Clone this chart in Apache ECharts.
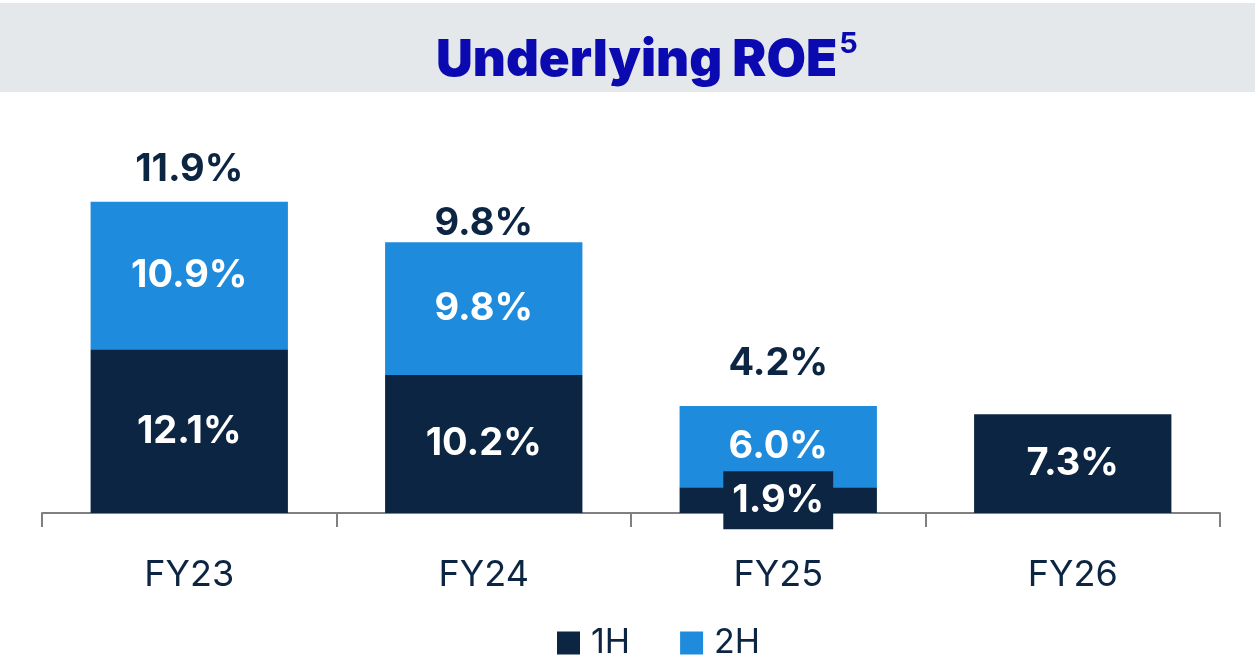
<!DOCTYPE html>
<html>
<head>
<meta charset="utf-8">
<script src="https://cdn.jsdelivr.net/npm/echarts@6/dist/echarts.min.js"></script>
<style>
  html, body { margin: 0; padding: 0; background: #fff; }
  #chart { width: 1255px; height: 665px; }
</style>
</head>
<body>
<div id="chart"></div>
<script>
const years = ['FY23', 'FY24', 'FY25', 'FY26'];
const firstHalf = [12.1, 10.2, 1.9, 7.3];
const secondHalf = [10.9, 9.8, 6.0, null];
const fullYear = ['11.9%', '9.8%', '4.2%', ''];
const topGap = [13, 0, 23, 0];

const dark = '#0c2542';
const blue = '#1f8bdc';
const font = 'Inter, "Noto Sans", sans-serif';

const chart = echarts.init(document.getElementById('chart'));

const inLabel = { show: true, position: 'inside', color: '#fff', fontSize: 38, fontWeight: 'bold', fontFamily: font, formatter: (p) => p.value.toFixed(1) + '%' };

chart.setOption({
  animation: false,
  graphic: [
    { type: 'rect', left: 0, top: 3, shape: { width: 1255, height: 89 }, style: { fill: '#e5e8eb' }, silent: true },
    {
      type: 'text', left: 436, top: 30,
      style: {
        text: '{t|Underlying ROE}{s|5}',
        rich: {
          t: { fontSize: 51, fontWeight: 900, fontFamily: font, fill: '#0a0ab0', lineHeight: 62 },
          s: { fontSize: 29, fontWeight: 'bold', fontFamily: font, fill: '#0a0ab0', verticalAlign: 'top', lineHeight: 62, padding: [0, 0, 24, 2] }
        }
      }
    }
  ],
  legend: {
    bottom: 0, left: 552,
    itemWidth: 23, itemHeight: 23, itemGap: 50,
    icon: 'rect',
    textStyle: { fontSize: 34, color: dark, fontFamily: font, padding: [0, 0, 0, 6] },
    data: ['1H', '2H']
  },
  grid: { left: 42, right: 35, top: 134, height: 379 },
  xAxis: {
    type: 'category', data: years,
    axisLine: { lineStyle: { color: '#808080', width: 2 } },
    axisTick: { show: true, length: 14, lineStyle: { color: '#808080', width: 2 } },
    axisLabel: { color: dark, fontSize: 36, fontFamily: font, margin: 44 }
  },
  yAxis: { type: 'value', min: 0, max: 28, show: false, splitLine: { show: false } },
  series: [
    {
      name: '1H', type: 'bar', stack: 'roe', barWidth: '67%',
      itemStyle: { color: dark },
      label: inLabel,
      data: firstHalf.map((v, i) => i === 2
        ? { value: v, label: { backgroundColor: dark, padding: [10, 9, 10, 9] } }
        : v)
    },
    {
      name: '2H', type: 'bar', stack: 'roe', barWidth: '67%',
      itemStyle: { color: blue },
      label: inLabel,
      data: secondHalf
    },
    {
      name: 'FY', type: 'bar', stack: 'roe', barWidth: '67%',
      itemStyle: { color: 'transparent' },
      silent: true,
      label: {
        show: true, position: 'top', color: dark, fontSize: 38, fontWeight: 'bold', fontFamily: font,
        formatter: (p) => fullYear[p.dataIndex]
      },
      data: fullYear.map((t, i) => ({ value: 0, label: { distance: topGap[i] } }))
    }
  ]
});
</script>
</body>
</html>
